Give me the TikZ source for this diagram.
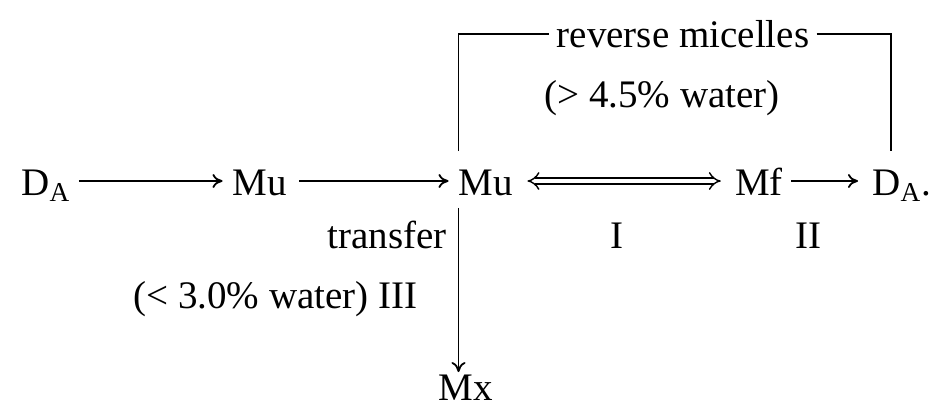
\documentclass[tikz,border=0pt]{standalone}
\usepackage{fontspec}
\setmainfont{Liberation Serif}
\usetikzlibrary{arrows.meta}

\begin{document}
\begin{tikzpicture}[
    x=0.5pt, y=-0.5pt,
    species/.style={inner sep=0pt, anchor=base, font=\fontsize{19.5}{23}\selectfont},
    lbl/.style={species},
    rxn/.style={line width=0.9pt, -{To[length=5pt, width=7pt]}},
    eqm/.style={double, double distance=2.4pt, line width=0.7pt,
      {Implies[length=7pt]}-{Implies[length=7pt]}},
    frame/.style={line width=0.9pt},
  ]
  \useasboundingbox (0,0) rectangle (942,407);
  \coordinate (axis) at (0,181);

  % === Species ===
  \node[species] (DAa) at (46,195) {D\textsubscript{A}};
  \node[species] (Mua) at (260,195) {Mu};
  \node[species] (Mub) at (486,195) {Mu};
  \node[species] (Mf) at (759,195) {Mf};
  \node[species, anchor=base west] (DAb) at (872,195) {D\textsubscript{A}.};
  \node[species] (Mx) at (466,400) {Mx};

  % === Main pathway ===
  \draw[rxn, shorten <=4pt, shorten >=5pt] (DAa.east |- axis) -- (Mua.west |- axis);
  \draw[rxn, shorten <=6pt, shorten >=5pt] (Mua.east |- axis) -- (Mub.west |- axis);
  \draw[eqm, shorten <=7pt, shorten >=7pt] (Mub.east |- axis) -- (Mf.west |- axis);
  \draw[rxn, shorten <=4pt, shorten >=7pt] (Mf.east |- axis) -- (DAb.west |- axis);

  % === Transfer to Mx ===
  \draw[rxn, shorten <=6pt, shorten >=1pt] (Mub.south west) -- (Mub.south west |- Mx.north);

  % === Reverse micelles bracket ===
  \node[lbl, inner xsep=3.5pt] (rm) at (683,47) {reverse micelles};
  \node[lbl] (wtrhi) at (662,107) {(> 4.5\% water)};
  \draw[frame, shorten <=9pt] (Mub.north west) |- (rm.west);
  \draw[frame] (rm.east) -| ([xshift=9.5pt, yshift=9pt]DAb.north west);

  % === Labels ===
  \node[lbl, anchor=base east] (trf) at (447,248) {transfer};
  \node[lbl] (stI) at (617,248) {I};
  \node[lbl] (stII) at (808,248) {II};
  \node[lbl, anchor=base west] (wtrlo) at (133,308) {(< 3.0\% water) III};

\end{tikzpicture}
\end{document}
